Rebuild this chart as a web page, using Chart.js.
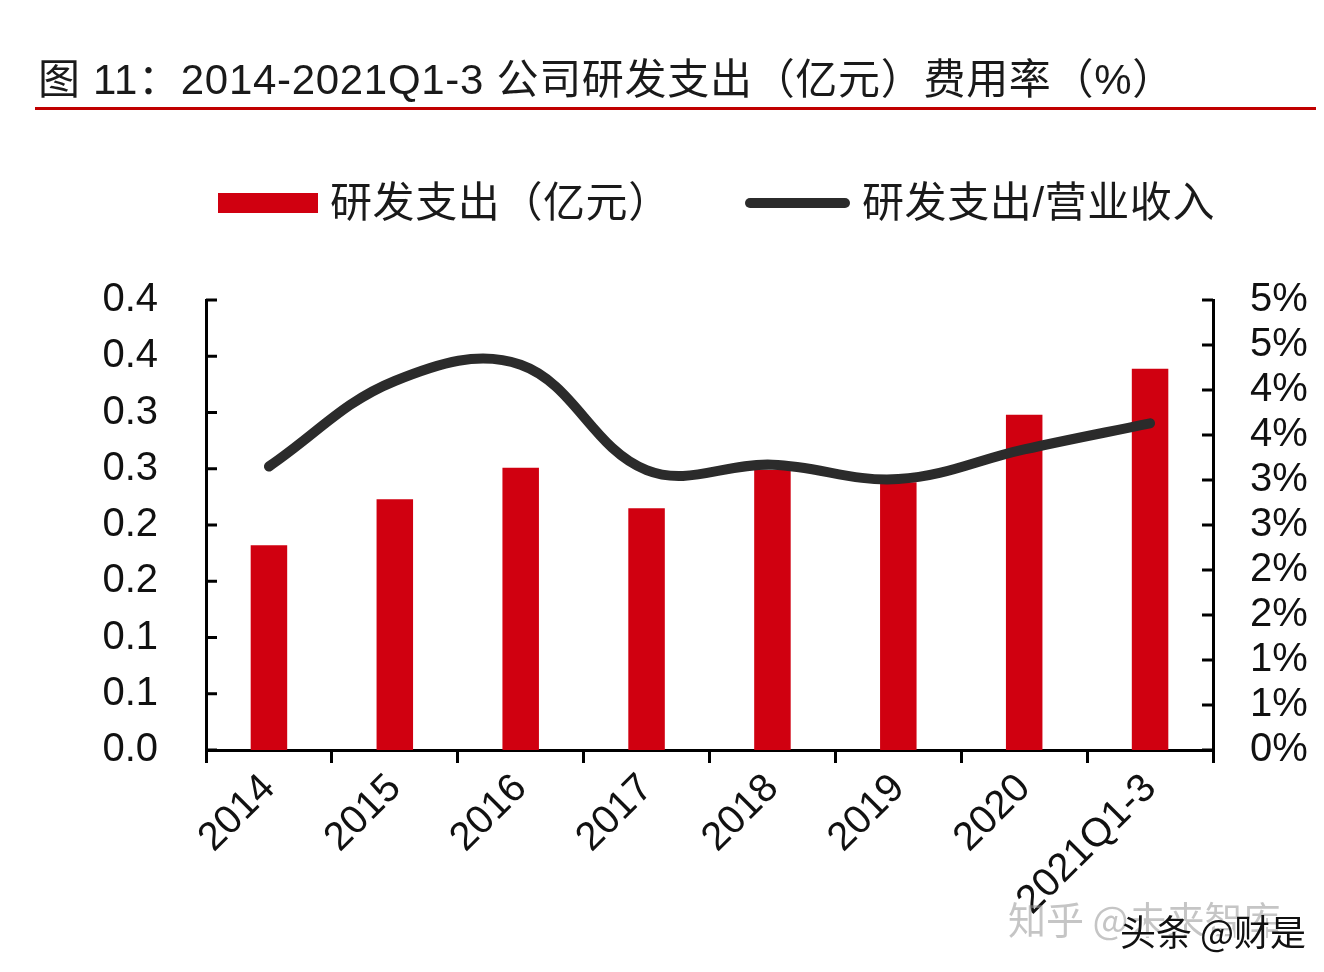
<!DOCTYPE html>
<html>
<head>
<meta charset="utf-8">
<script src="https://cdn.jsdelivr.net/npm/chart.js@4/dist/chart.umd.min.js"></script>
<style>
  body { margin: 0; background: #fff; width: 1324px; height: 972px; overflow: hidden; position: relative;
         font-family: "Liberation Sans", Arial, "Noto Sans CJK SC", sans-serif; color: #1a1a1a; }
  #titulo { position: absolute; left: 38px; top: 55px; font-size: 42px; line-height: 50px; letter-spacing: 0.7px; white-space: nowrap; }
  #raya { position: absolute; left: 35px; top: 107px; width: 1281px; height: 3px; background: #c00000; }
  .leyenda { position: absolute; top: 178px; font-size: 42px; line-height: 50px; letter-spacing: 0.6px; white-space: nowrap; }
  #cajaBarra { position: absolute; left: 218px; top: 193px; width: 100px; height: 20px; background: #d00010; }
  #cajaLinea { position: absolute; left: 745px; top: 198px; width: 105px; height: 10px; border-radius: 5px; background: #2b2b2b; }
  #grafico { position: absolute; left: 0; top: 0; }
  .marca { position: absolute; font-size: 38px; white-space: nowrap; font-family: "Noto Sans CJK SC", sans-serif; }
</style>
</head>
<body>
<canvas id="grafico" width="1324" height="972"></canvas>
<div id="titulo">图 11：2014-2021Q1-3 公司研发支出（亿元）费用率（%）</div>
<div id="raya"></div>
<div id="cajaBarra"></div>
<div class="leyenda" style="left:330px">研发支出（亿元）</div>
<div id="cajaLinea"></div>
<div class="leyenda" style="left:862px">研发支出/营业收入</div>
<div class="marca" style="left:1008px; top:890px; color:rgba(150,150,150,0.55)">知乎 @未来智库</div>
<div class="marca" style="left:1120px; top:904px; font-size:36px; color:#111; text-shadow:2px 2px 0 #fff">头条 @财是</div>
<script>
const categorias = ["2014", "2015", "2016", "2017", "2018", "2019", "2020", "2021Q1-3"];
const gastoID = [0.182, 0.223, 0.251, 0.215, 0.249, 0.238, 0.298, 0.339];
const ratioID = [3.15, 4.10, 4.28, 3.11, 3.17, 3.01, 3.34, 3.63];
const ticksIzq = ["0.0", "0.1", "0.1", "0.2", "0.2", "0.3", "0.3", "0.4", "0.4"];
const ticksDer = ["0%", "1%", "1%", "2%", "2%", "3%", "3%", "4%", "4%", "5%", "5%"];

const FUENTE = "'Liberation Sans', Arial, 'Noto Sans CJK SC', sans-serif";

// marcas cortas hacia dentro en los dos ejes verticales
const marcasDentro = {
  id: "marcasDentro",
  afterDraw(chart) {
    const ctx = chart.ctx;
    ctx.save();
    ctx.strokeStyle = "#000";
    ctx.lineWidth = 3;
    ["y", "y1"].forEach(id => {
      const s = chart.scales[id];
      const x0 = id === "y" ? s.right : s.left;
      const dir = id === "y" ? 1 : -1;
      s.ticks.forEach((t, i) => {
        const y = s.getPixelForTick(i);
        ctx.beginPath();
        ctx.moveTo(x0, y);
        ctx.lineTo(x0 + dir * 11, y);
        ctx.stroke();
      });
    });
    ctx.restore();
  }
};

new Chart(document.getElementById("grafico"), {
  data: {
    labels: categorias,
    datasets: [
      {
        type: "line",
        label: "研发支出/营业收入",
        data: ratioID,
        yAxisID: "y1",
        borderColor: "#2b2b2b",
        borderWidth: 10,
        borderCapStyle: "round",
        borderJoinStyle: "round",
        pointRadius: 0,
        tension: 0.38,
        order: 0
      },
      {
        type: "bar",
        label: "研发支出（亿元）",
        data: gastoID,
        yAxisID: "y",
        backgroundColor: "#d00010",
        categoryPercentage: 1,
        barPercentage: 0.29,
        order: 1
      }
    ]
  },
  options: {
    responsive: false,
    animation: false,
    devicePixelRatio: 1,
    layout: { padding: { top: 300, left: 0, right: 0, bottom: 0 } },
    plugins: { legend: { display: false }, tooltip: { enabled: false } },
    scales: {
      x: {
        offset: true,
        afterFit(s) { s.height = 222; },
        grid: { display: true, drawOnChartArea: false, drawTicks: true, tickLength: 13, offset: true, color: "#000", lineWidth: 3 },
        border: { display: true, color: "#000", width: 3 },
        ticks: { color: "#111", font: { size: 40, family: FUENTE }, minRotation: 45, maxRotation: 45, padding: 2, autoSkip: false }
      },
      y: {
        position: "left",
        min: 0,
        max: 0.4,
        afterFit(s) { s.width = 206; },
        grid: { display: false, drawTicks: false },
        border: { display: true, color: "#000", width: 3 },
        ticks: { stepSize: 0.05, color: "#111", font: { size: 40, family: FUENTE, lineHeight: 1 }, padding: 48,
                 autoSkip: false, callback: (v, i) => ticksIzq[i] }
      },
      y1: {
        position: "right",
        min: 0,
        max: 5,
        afterFit(s) { s.width = 111; },
        grid: { display: false, drawTicks: false },
        border: { display: true, color: "#000", width: 3 },
        ticks: { stepSize: 0.5, color: "#111", font: { size: 40, family: FUENTE, lineHeight: 1 }, padding: 37,
                 autoSkip: false, callback: (v, i) => ticksDer[i] }
      }
    }
  },
  plugins: [marcasDentro]
});
</script>
</body>
</html>
